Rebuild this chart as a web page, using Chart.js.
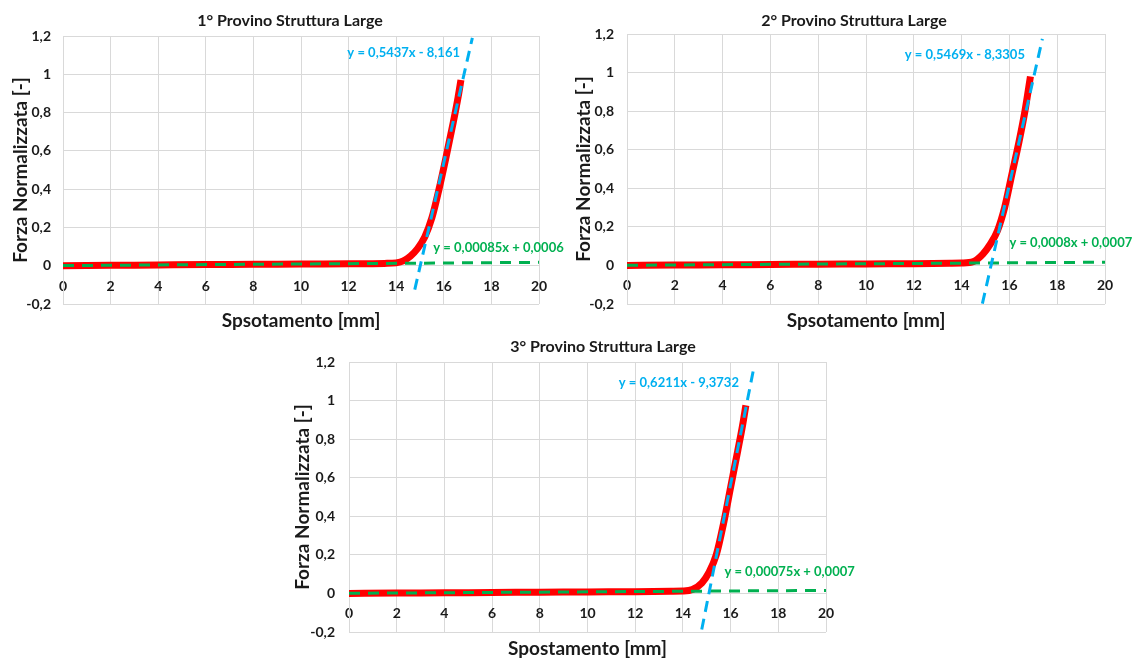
<!DOCTYPE html>
<html lang="it">
<head>
<meta charset="utf-8">
<title>Provini Struttura Large</title>
<script src="https://cdn.jsdelivr.net/npm/chart.js@4.4.0/dist/chart.umd.min.js"></script>
<style>
  html, body { margin: 0; padding: 0; background: #fff; overflow: hidden; }
  body { position: relative; width: 1132px; height: 659px; }
  .panel { position: absolute; }
</style>
</head>
<body>
<div class="panel" id="p1"><canvas id="c1"></canvas></div>
<div class="panel" id="p2"><canvas id="c2"></canvas></div>
<div class="panel" id="p3"><canvas id="c3"></canvas></div>
<script>
// spostamento [mm] / forza normalizzata [-] per ciascun provino
const spost1 = [0, 2, 4, 6, 8, 10, 12, 13.5, 14.0, 14.3, 14.6, 14.9, 15.2, 15.5, 15.8, 16.1, 16.4, 16.6, 16.72];
const forza1 = [0.000, 0.002, 0.004, 0.006, 0.007, 0.009, 0.010, 0.012, 0.015, 0.025, 0.05, 0.09, 0.15, 0.25, 0.40, 0.57, 0.75, 0.88, 0.97];

const spost2 = [0, 2, 4, 6, 8, 10, 12, 13.5, 14.0, 14.5, 14.9, 15.2, 15.5, 15.8, 16.1, 16.4, 16.65, 16.88];
const forza2 = [0.000, 0.002, 0.003, 0.005, 0.006, 0.008, 0.009, 0.011, 0.012, 0.02, 0.06, 0.11, 0.18, 0.30, 0.47, 0.64, 0.80, 0.98];

const spost3 = [0, 2, 4, 6, 8, 10, 12, 13.5, 14.0, 14.4, 14.8, 15.1, 15.4, 15.7, 16.0, 16.3, 16.5, 16.64];
const forza3 = [0.000, 0.002, 0.003, 0.005, 0.006, 0.008, 0.009, 0.011, 0.012, 0.02, 0.055, 0.11, 0.20, 0.36, 0.55, 0.74, 0.87, 0.975];

// rette di tendenza: tratto di salita e tratto iniziale
const slopeRise = [0.5437, 0.5469, 0.6211];
const interRise = [-8.161, -8.3305, -9.3732];
const spanRise = [[14.78, 17.2], [14.87, 17.38], [14.79, 16.97]];
const slopeFlat = [0.00085, 0.0008, 0.00075];
const interFlat = [0.0006, 0.0007, 0.0007];
const spanFlat = [0, 20];

const titles = ['1° Provino Struttura Large', '2° Provino Struttura Large', '3° Provino Struttura Large'];
const xTitles = ['Spsotamento [mm]', 'Spsotamento [mm]', 'Spostamento [mm]'];
const yTitle = 'Forza Normalizzata [-]';
const xTicks = [0, 2, 4, 6, 8, 10, 12, 14, 16, 18, 20];
const yTicks = [-0.2, 0, 0.2, 0.4, 0.6, 0.8, 1, 1.2];

const FONT = 'Lato, "Open Sans", sans-serif';
const TITLE_SIZE = 16;
const AXIS_TITLE_SIZE = 19;
const TICK_SIZE = 14;
const EQ_SIZE = 13;
const RED = '#ff0000';
const GREEN = '#00b050';
const BLUE = '#00b0f0';
const GRID = '#d9d9d9';
const INK = '#1a1a1a';

// page placement of each panel (px)
const panels = [
  { el: 'p1', left: 0, top: 0, width: 576, height: 333,
    plot: { l: 63, r: 539, t: 36, b: 304 }, titleAt: [290, 21], yTitleX: 21, tickRight: 51, xTitleY: 321,
    eqRiseAt: [16.68, 1.11], eqFlatAt: [15.56, 0.091] },
  { el: 'p2', left: 570, top: 0, width: 562, height: 333,
    plot: { l: 627, r: 1105, t: 34, b: 304 }, titleAt: [854, 21], yTitleX: 584, tickRight: 614, xTitleY: 321,
    eqRiseAt: [16.65, 1.09], eqFlatAt: [16.0, 0.116] },
  { el: 'p3', left: 285, top: 330, width: 575, height: 332,
    plot: { l: 349, r: 826, t: 362, b: 632 }, titleAt: [603, 347], yTitleX: 303, tickRight: 335, xTitleY: 649,
    eqRiseAt: [16.35, 1.092], eqFlatAt: [15.74, 0.11] }
];

const series = [[spost1, forza1], [spost2, forza2], [spost3, forza3]];

const fmt = v => String(v).replace('.', ',');
const eqText = (m, q) => `y = ${fmt(m)}x ${q < 0 ? '-' : '+'} ${fmt(Math.abs(q))}`;
const linePts = (m, q, span) => span.map(x => ({ x: x, y: m * x + q }));

// title and trendline equations
const overlayText = {
  id: 'overlayText',
  afterDatasetsDraw(chart, args, o) {
    const ctx = chart.ctx;
    const xs = chart.scales.x, ys = chart.scales.y;
    ctx.save();
    ctx.textBaseline = 'middle';
    ctx.font = `bold ${EQ_SIZE}px ${FONT}`;
    ctx.fillStyle = BLUE;
    ctx.textAlign = 'right';
    ctx.fillText(o.rise, xs.getPixelForValue(o.riseAt[0]), ys.getPixelForValue(o.riseAt[1]));
    ctx.fillStyle = GREEN;
    ctx.textAlign = 'left';
    ctx.fillText(o.flat, xs.getPixelForValue(o.flatAt[0]), ys.getPixelForValue(o.flatAt[1]));
    ctx.font = `bold ${TITLE_SIZE}px ${FONT}`;
    ctx.fillStyle = INK;
    ctx.textAlign = 'center';
    ctx.fillText(o.title, o.titleX, o.titleY);
    ctx.restore();
  }
};

panels.forEach((p, i) => {
  const box = document.getElementById(p.el);
  box.style.left = p.left + 'px';
  box.style.top = p.top + 'px';
  box.style.width = p.width + 'px';
  box.style.height = p.height + 'px';

  const lh = AXIS_TITLE_SIZE * 1.2;
  const padL = p.yTitleX - p.left - lh / 2;
  const yWidth = p.plot.l - p.left - padL;
  const padR = p.left + p.width - p.plot.r;
  const padT = p.plot.t - p.top;
  const subTop = p.xTitleY - p.plot.b - lh / 2;
  const subBottom = Math.max(0, p.top + p.height - p.plot.b - lh - subTop);

  const [sx, fy] = series[i];
  const tickFont = { family: FONT, size: TICK_SIZE, weight: 'bold' };

  new Chart(document.getElementById('c' + (i + 1)), {
    type: 'scatter',
    data: {
      datasets: [
        {
          label: 'Forza',
          data: sx.map((x, k) => ({ x: x, y: fy[k] })),
          showLine: true,
          borderColor: RED,
          borderWidth: 7,
          pointRadius: 0,
          cubicInterpolationMode: 'monotone',
          order: 3
        },
        {
          label: 'Tendenza iniziale',
          data: linePts(slopeFlat[i], interFlat[i], spanFlat),
          showLine: true,
          borderColor: GREEN,
          borderWidth: 3,
          borderDash: [11, 8],
          pointRadius: 0,
          order: 2
        },
        {
          label: 'Tendenza salita',
          data: linePts(slopeRise[i], interRise[i], spanRise[i]),
          showLine: true,
          borderColor: BLUE,
          borderWidth: 3,
          borderDash: [11, 7],
          pointRadius: 0,
          order: 1
        }
      ]
    },
    options: {
      responsive: true,
      maintainAspectRatio: false,
      animation: false,
      events: [],
      layout: { padding: { left: padL, right: padR, top: padT, bottom: 0 } },
      plugins: {
        legend: { display: false },
        tooltip: { enabled: false },
        title: { display: false },
        subtitle: {
          display: true,
          position: 'bottom',
          fullSize: false,
          text: xTitles[i],
          color: INK,
          font: { family: FONT, size: AXIS_TITLE_SIZE, weight: 'bold' },
          padding: { top: subTop, bottom: subBottom }
        },
        overlayText: {
          rise: eqText(slopeRise[i], interRise[i]),
          flat: eqText(slopeFlat[i], interFlat[i]),
          riseAt: p.eqRiseAt,
          flatAt: p.eqFlatAt,
          title: titles[i],
          titleX: p.titleAt[0] - p.left,
          titleY: p.titleAt[1] - p.top
        }
      },
      scales: {
        x: {
          type: 'linear',
          axis: 'x',
          min: 0,
          max: 20,
          position: { y: 0 },
          afterBuildTicks: s => { s.ticks = xTicks.map(v => ({ value: v })); },
          grid: { color: GRID, drawTicks: false },
          border: { color: GRID },
          ticks: { font: tickFont, color: INK, padding: 12, maxRotation: 0, callback: v => fmt(v) }
        },
        y: {
          type: 'linear',
          min: -0.2,
          max: 1.2,
          position: 'left',
          afterBuildTicks: s => { s.ticks = yTicks.map(v => ({ value: v })); },
          afterFit: s => { s.width = yWidth; },
          grid: { color: GRID, drawTicks: false },
          border: { color: GRID },
          ticks: { font: tickFont, color: INK, padding: p.plot.l - p.tickRight, callback: v => fmt(Math.round(v * 10) / 10) },
          title: {
            display: true,
            text: yTitle,
            color: INK,
            font: { family: FONT, size: AXIS_TITLE_SIZE, weight: 'bold' },
            padding: { top: 0, bottom: 0 }
          }
        }
      }
    },
    plugins: [overlayText]
  });
});
</script>
</body>
</html>
